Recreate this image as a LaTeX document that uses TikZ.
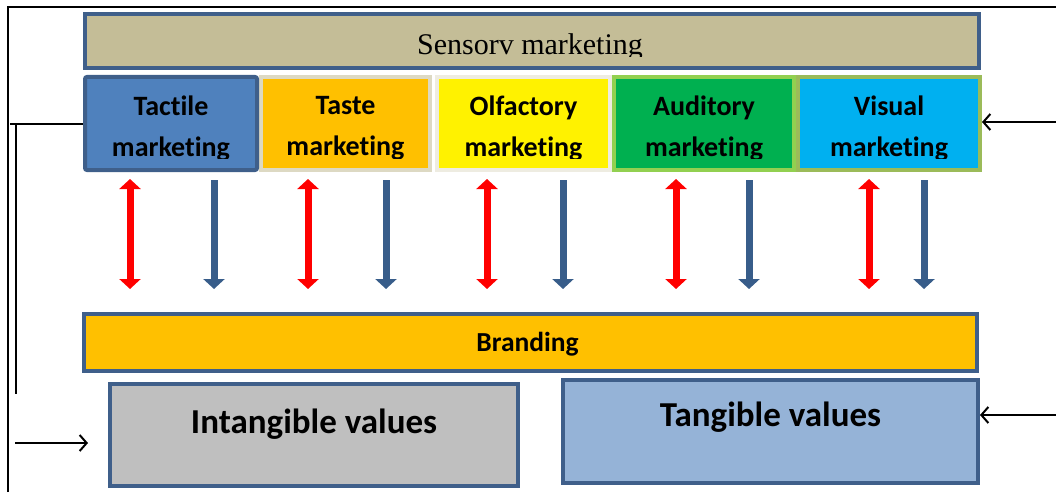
\documentclass[tikz,border=0pt]{standalone}
\usepackage{fontspec}
\setmainfont{Carlito}[Ligatures=NoCommon]
\newfontfamily\serifface{Liberation Serif}
\usetikzlibrary{arrows.meta,positioning}

\definecolor{frameblue}{HTML}{3F5F8A}
\definecolor{arrowblue}{HTML}{385D8A}
\definecolor{sensbg}{HTML}{C4BD97}
\definecolor{tactfill}{HTML}{4F81BD}
\definecolor{gold}{HTML}{FFC000}
\definecolor{tasteline}{HTML}{DDD9C3}
\definecolor{olfline}{HTML}{EEECE1}
\definecolor{audfill}{HTML}{00B050}
\definecolor{audline}{HTML}{92D050}
\definecolor{visfill}{HTML}{00B0F0}
\definecolor{visline}{HTML}{9BBB59}
\definecolor{intfill}{HTML}{BFBFBF}
\definecolor{tanfill}{HTML}{95B3D7}

\begin{document}
\begin{tikzpicture}[x=1pt, y=-1pt,
    box/.style      = {draw, rectangle, line width=4pt, inner sep=0pt},
    sense/.style    = {box, minimum height=93pt},
    lbl/.style      = {font=\bfseries\fontsize{28}{41}\selectfont, align=center},
    valbox/.style   = {box, draw=frameblue},
    vallbl/.style   = {font=\bfseries\fontsize{35}{40}\selectfont},
    redarrow/.style = {red, line width=7pt,
        {Triangle[width=21pt,length=10pt]}-{Triangle[width=21pt,length=10pt]}},
    bluearrow/.style= {arrowblue, line width=7pt, -{Triangle[width=21pt,length=10pt]}},
    sidearrow/.style= {line width=2pt, -{Straight Barb[length=7pt,width=16pt]}},
    link/.style     = {line width=2pt}]

    \useasboundingbox (0,0) rectangle (1056,492);

    % outer frame
    \draw[link] (8,492) -- (8,7) -- (1056,7);

    % top bar
    \node[box, fill=sensbg, draw=frameblue, minimum width=894pt, minimum height=54pt]
        (sensory) at (532,41) {};
    \begin{scope}
        \clip (sensory.north west) rectangle ([yshift=13pt]sensory.south east);
        \node[anchor=base, font=\serifface\fontsize{30}{36}\selectfont] (senslbl) at (530,55)
            {Sensorv marketing};
    \end{scope}

    % the five senses, side by side
    \node[sense, anchor=west, fill=gold, draw=tasteline, minimum width=169pt] (taste) at (259,123.5) {};
    \node[sense, anchor=east, fill=tactfill, draw=frameblue, rounded corners=2pt,
        minimum width=172pt] (tact) at (taste.west) {};
    \node[sense, fill=yellow, draw=olfline, minimum width=173pt, right=3pt of taste] (olf) {};
    \node[sense, fill=audfill, draw=audline, minimum width=180pt, right=0pt of olf] (aud) {};
    \node[sense, fill=visfill, draw=visline, minimum width=182pt, right=0pt of aud] (vis) {};

    \begin{scope}
        \clip (tact.north west) rectangle (vis.east |- 0,158);
        \node[lbl] (tactlbl)  at ([yshift=-5pt]tact.center)  {Tactile\\marketing};
        \node[lbl] (tastelbl) at ([yshift=-5pt]taste.center) {Taste\\marketing};
        \node[lbl] (olflbl)   at ([yshift=-5pt]olf.center)   {Olfactory\\marketing};
        \node[lbl] (audlbl)   at ([yshift=-5pt]aud.center)   {Auditory\\marketing};
        \node[lbl] (vislbl)   at ([yshift=-5pt]vis.center)   {Visual\\marketing};
    \end{scope}

    % branding bar and the two value boxes
    \node[box, fill=gold, draw=frameblue, minimum width=893pt, minimum height=57pt] (brand) at (530.5,342.5) {};
    \node[font=\bfseries\fontsize{27.5}{32}\selectfont] (brandlbl) at ([xshift=-3pt,yshift=-2pt]brand.center) {Branding};
    \node[valbox, fill=intfill, minimum width=408pt, minimum height=102pt] (intang) at (314,435) {};
    \node[valbox, fill=tanfill, minimum width=415pt, minimum height=103pt] (tang) at (770.5,431.5) {};
    \node[vallbl] (intlbl) at ([yshift=11pt]intang.center) {Intangible values};
    \node[vallbl] (tanlbl) at ([yshift=14pt]tang.center) {Tangible values};

    % arrows between the senses and branding
    \foreach \sense/\rx/\bx in {tact/130/214, taste/308/386, olf/487/563, aud/676/749, vis/869/924}{
        \draw[redarrow, shorten <=7pt, shorten >=23pt] (\sense.south -| \rx,0) -- (brand.north -| \rx,0);
        \draw[bluearrow, shorten <=8pt, shorten >=23pt] (\sense.south -| \bx,0) -- (brand.north -| \bx,0);
    }

    % side connectors
    \coordinate (lstub) at (10,122);
    \coordinate (lfoot) at (15,443);
    \coordinate (rtop)  at (1056,122);
    \coordinate (rbot)  at (1056,415);
    \draw[link] (tact.west) -- (tact.west -| lstub);
    \draw[link] (16,125) -- (16,394);
    \draw[sidearrow, shorten >=20pt] (lfoot) -- (lfoot -| intang.west);
    \draw[sidearrow] (rtop) -- (rtop -| vis.east);
    \draw[sidearrow] (rbot) -- (rbot -| tang.east);
\end{tikzpicture}
\end{document}
